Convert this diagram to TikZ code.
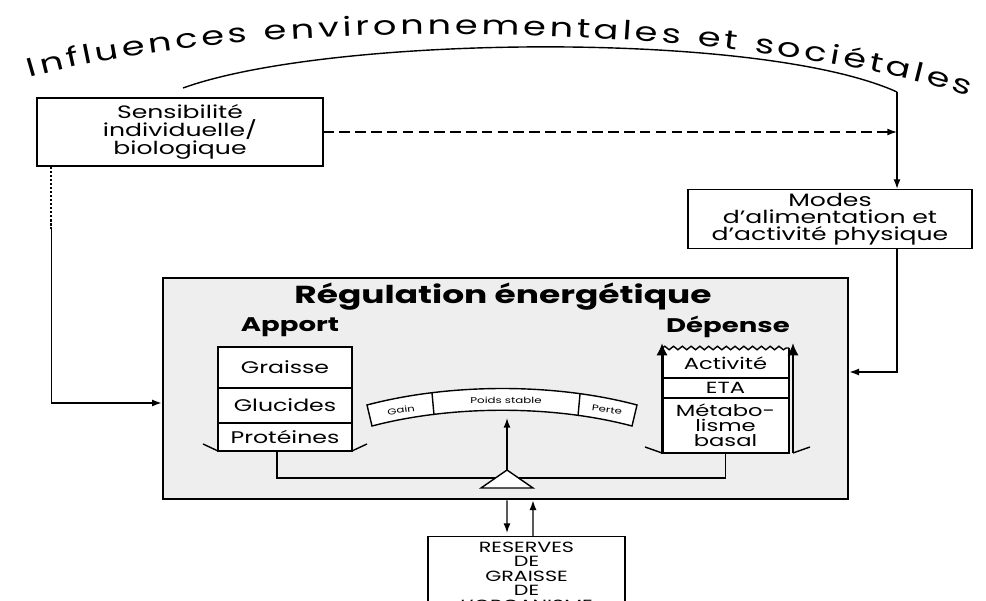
\documentclass[tikz,border=0pt]{standalone}
\usepackage{fontspec}
\setmainfont[FakeStretch=1.4]{Poppins}
\usetikzlibrary{positioning,arrows.meta,calc,decorations.text,decorations.pathmorphing}

\begin{document}
\begin{tikzpicture}[x=0.02cm,y=-0.02cm,font=\small,
  box/.style={draw,thick,fill=white,align=center,inner sep=2pt,font=\fontsize{10.2}{10.2}\selectfont},
  cell/.style={draw,thick,fill=white,minimum width=2.68cm,align=center,inner sep=0pt,outer sep=0pt,font=\fontsize{9.6}{10}\selectfont},
  dcell/.style={fill=white,minimum width=2.54cm,align=center,inner sep=0pt,outer sep=0pt,font=\fontsize{9.2}{8.6}\selectfont},
  lab/.style={font=\fontsize{11.2}{12}\selectfont\bfseries},
  beamtxt/.style={font=\fontsize{4.8}{5}\selectfont,inner sep=0pt},
  arr/.style={-{Latex[length=5.5pt,width=4pt]}},
  bigarr/.style={-{Latex[length=7pt,width=6.5pt]},line width=1.7pt}]
\useasboundingbox (0,0) rectangle (986,601);

% curved title
\path[decorate,decoration={text along path,text align=fit to path,
  text={|\fontsize{15}{18}\selectfont|Influences environnementales et sociétales}}]
  (30,78) .. controls (230,18) and (720,16) .. (968,96);
\coordinate (arcl) at (183,88);
\coordinate (arcr) at (897,92);
\draw[thick] (arcl) .. controls (330,35) and (760,30) .. (arcr);

% outer boxes
\node[box,minimum width=5.72cm,minimum height=1.36cm] (sens) at (180,132) {Sensibilité\\individuelle/\\biologique};
\node[box,minimum width=5.68cm,minimum height=1.16cm,font=\fontsize{10.2}{9.6}\selectfont] (modes) at (830,219) {Modes\\d'alimentation et\\d'activité physique};
\node[draw,line width=1.6pt,fill=gray!13,minimum width=13.7cm,minimum height=4.42cm] (reg) at (505.5,388.5) {};
\node[font=\fontsize{14}{16}\selectfont\bfseries] (regt) at (503,297) {Régulation énergétique};
\node[box,anchor=north,minimum width=3.94cm,inner sep=3pt,font=\fontsize{8.4}{8.2}\selectfont] (res) at (526.5,536) {RESERVES\\DE\\GRAISSE\\DE\\L'ORGANISME};

% apport
\node[cell,minimum height=0.82cm] (graisse) at (285,367.5) {Graisse};
\node[cell,minimum height=0.70cm,below=0pt of graisse] (gluc) {Glucides};
\node[cell,minimum height=0.56cm,below=0pt of gluc] (prot) {Protéines};
\node[lab] (apport) at (290,327) {Apport};
\draw[line width=1.4pt] (prot.south west) -- (prot.south east);
\draw[thick] (prot.south west) -- ++(-15,-7);
\draw[thick] (prot.south east) -- ++(15,-7);

% depense
\node[dcell,minimum height=0.60cm] (activ) at (725.5,363) {Activité};
\node[dcell,minimum height=0.40cm,below=0pt of activ] (eta) {ETA};
\node[dcell,minimum height=1.10cm,below=0pt of eta] (metab) {Métabo-\\lisme\\basal};
\node[lab] (dep) at (728,327) {Dépense};
\draw[thick] (activ.north west) -- (metab.south west) -- (metab.south east) -- (activ.north east);
\draw[thick] (eta.north west) -- (eta.north east) (eta.south west) -- (eta.south east);
\draw[thick,decorate,decoration={snake,amplitude=1pt,segment length=5pt}] (activ.north west) -- (activ.north east);
\draw[bigarr] (metab.south west) -- ([yshift=0.1cm]activ.north west);
\draw[bigarr] ([xshift=0.08cm]metab.south east) -- ([xshift=0.08cm,yshift=0.1cm]activ.north east);
\draw[thick] (metab.south west) -- ++(-17,-6);
\draw[thick] ([xshift=0.08cm]metab.south east) -- ++(17,-6);

% balance
\coordinate (fulc) at (507,470);
\coordinate (bar) at (507,478);
\coordinate (beamb) at (507,418);
\draw[thick] ([xshift=-0.16cm]prot.south) |- (bar) -| (metab.south);
\draw[thick,fill=white] (fulc) -- ++(26,18) -- ++(-52,0) -- cycle;
\draw[thick,fill=white] (367,405) .. controls (450,383) and (555,383) .. (637,405) -- (632,426)
  .. controls (553,405) and (452,405) .. (372,426) -- cycle;
\draw[thick] (432,393) -- (434,415) (580,394) -- (578,416);
\node[beamtxt,rotate=8] (gain) at (401,410) {Gain};
\node[beamtxt] (stable) at (506,400) {Poids stable};
\node[beamtxt,rotate=-8] (perte) at (607,410) {Perte};
\draw[thick,arr] (fulc) -- (beamb);

% connections
\draw[thick,arr] (arcr) -- (arcr |- modes.north);
\draw[thick,arr,dash pattern=on 6pt off 3pt] (sens.east) -- (sens.east -| arcr);
\coordinate (sdot) at ($(sens.south west)+(15,0)$);
\draw[line width=1.2pt,dash pattern=on 1.3pt off 1pt] (sdot) -- ++(0,62) coordinate (ssol);
\draw[thick,arr] (ssol) |- ([yshift=-0.29cm]reg.west);
\draw[thick,arr] (arcr |- modes.south) |- ([yshift=0.33cm]reg.east);
\draw[thick,arr] ([xshift=0.03cm]reg.south) -- ([xshift=-0.39cm,yshift=0.06cm]res.north);
\draw[thick,arr] ([xshift=0.13cm]res.north) -- ([xshift=0.55cm]reg.south);
\end{tikzpicture}
\end{document}
